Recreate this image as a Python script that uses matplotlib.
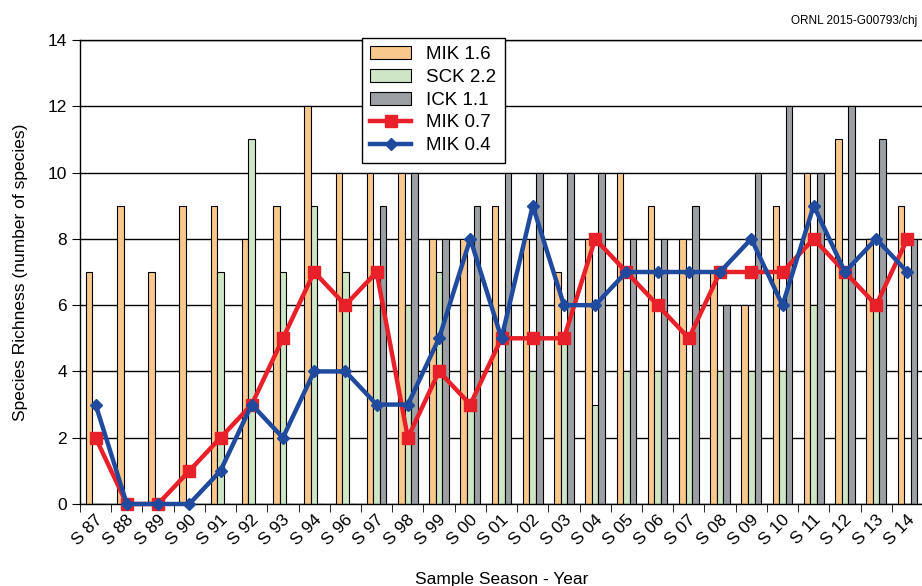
import matplotlib
matplotlib.use("Agg")
import matplotlib.pyplot as plt
import matplotlib.transforms as mtransforms
import numpy as np

plt.rcParams['font.family'] = ['Liberation Sans', 'DejaVu Sans']

# sample seasons
seasons = ['S 87', 'S 88', 'S 89', 'S 90', 'S 91', 'S 92', 'S 93', 'S 94', 'S 96',
           'S 97', 'S 98', 'S 99', 'S 00', 'S 01', 'S 02', 'S 03', 'S 04', 'S 05',
           'S 06', 'S 07', 'S 08', 'S 09', 'S 10', 'S 11', 'S 12', 'S 13', 'S 14']

# species richness per site
mik16 = [7, 9, 7, 9, 9, 8, 9, 12, 10, 10, 10, 8, 8, 9, 8, 7, 8, 10, 9, 8, 7, 6, 9, 10, 11, 8, 9]
sck22 = [0, 0, 0, 0, 7, 11, 7, 9, 7, 6, 6, 7, 3, 4, 4, 5, 3, 4, 4, 4, 4, 4, 4, 6, 7, 6, 0]
ick11 = [0, 0, 0, 0, 0, 0, 0, 0, 0, 9, 10, 8, 9, 10, 10, 10, 10, 8, 8, 9, 6, 10, 12, 10, 12, 11, 8]
mik07 = [2, 0, 0, 1, 2, 3, 5, 7, 6, 7, 2, 4, 3, 5, 5, 5, 8, 7, 6, 5, 7, 7, 7, 8, 7, 6, 8]
mik04 = [3, 0, 0, 0, 1, 3, 2, 4, 4, 3, 3, 5, 8, 5, 9, 6, 6, 7, 7, 7, 7, 8, 6, 9, 7, 8, 7]

x = np.arange(len(seasons))
w = 0.21

fig = plt.figure(figsize=(9.22, 5.86), dpi=100)
ax = fig.add_axes([80 / 922, 82 / 586, 843 / 922, 464 / 586])

b1 = ax.bar(x - w, mik16, w, color='#F9C88C', edgecolor='black', linewidth=0.8, label='MIK 1.6')
b2 = ax.bar(x, sck22, w, color='#CFE6C6', edgecolor='black', linewidth=0.8, label='SCK 2.2')
b3 = ax.bar(x + w, ick11, w, color='#9C9FA3', edgecolor='black', linewidth=0.8, label='ICK 1.1')

l1, = ax.plot(x, mik07, color='#E8202A', linewidth=3.2, marker='s', markersize=9,
              label='MIK 0.7', clip_on=False, zorder=4)
l2, = ax.plot(x, mik04, color='#1F4A9E', linewidth=3.2, marker='D', markersize=6,
              label='MIK 0.4', clip_on=False, zorder=5)

ax.set_xlim(-0.5, len(seasons) - 0.5)
ax.set_ylim(0, 14)
ax.set_yticks(range(0, 15, 2))
ax.yaxis.grid(True, color='black', linewidth=1.0)
ax.set_axisbelow(True)

ax.set_xticks(x)
ax.set_xticklabels(seasons, rotation=45, ha='right', fontsize=12.5)
ax.tick_params(axis='x', which='major', length=0, pad=6)
ax.set_xticks(np.arange(-0.5, len(seasons), 1), minor=True)
ax.tick_params(axis='x', which='minor', length=6, direction='out')
ax.tick_params(axis='y', labelsize=12.5, length=6, direction='out')

# nudge the rotated labels a little right, as in the original
shift = mtransforms.ScaledTranslation(10 / 100, 0, fig.dpi_scale_trans)
for lab in ax.get_xticklabels():
    lab.set_transform(lab.get_transform() + shift)

for s in ax.spines.values():
    s.set_linewidth(1.0)

ax.set_xlabel('Sample Season - Year', fontsize=12.5, labelpad=17)
ax.set_ylabel('Species Richness (number of species)', fontsize=12.5, labelpad=14)

leg = ax.legend([b1, b2, b3, l1, l2], ['MIK 1.6', 'SCK 2.2', 'ICK 1.1', 'MIK 0.7', 'MIK 0.4'],
                loc='upper left', bbox_to_anchor=(0.334, 1.005), borderaxespad=0,
                fontsize=13.5, frameon=True, fancybox=False, framealpha=1,
                edgecolor='black', handlelength=2.2, labelspacing=0.3,
                handletextpad=0.8, borderpad=0.45)
leg.get_frame().set_linewidth(1.0)

fig.text(0.995, 0.965, 'ORNL 2015-G00793/chj', ha='right', va='center', fontsize=8.5)

fig.savefig('out.png', dpi=100)
